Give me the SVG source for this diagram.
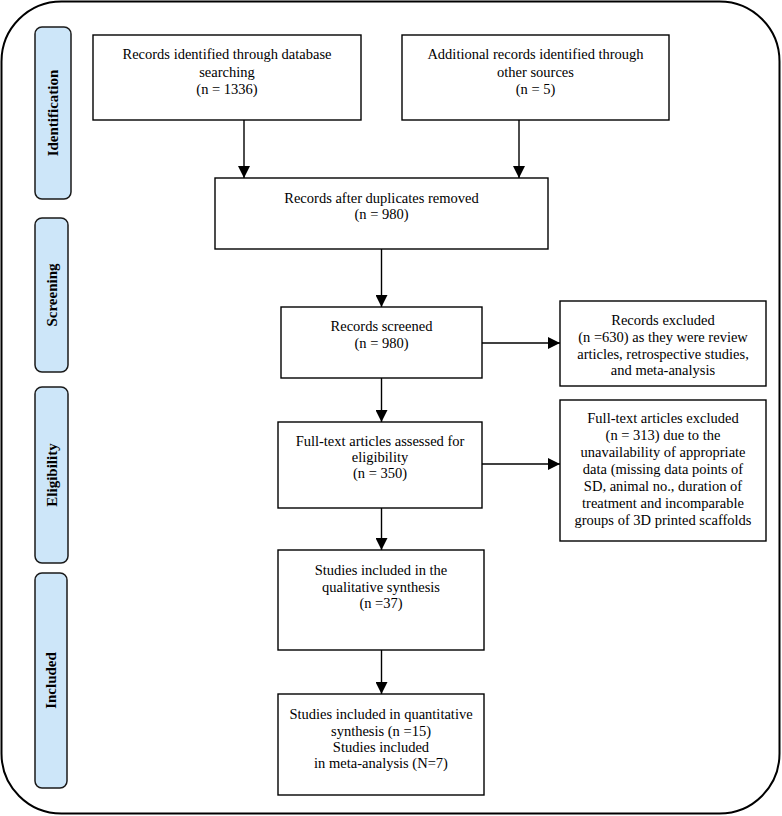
<svg xmlns="http://www.w3.org/2000/svg" width="782" height="816" viewBox="0 0 782 816">
<defs>
<marker id="ah" markerUnits="userSpaceOnUse" markerWidth="12" markerHeight="12" viewBox="0 0 12 12" refX="12" refY="6" orient="auto">
<path d="M0,0 L12,6 L0,12 z" fill="#000"/>
</marker>
<style>
.box{fill:#fff;stroke:#000;stroke-width:1.4}
.lab{fill:#cde6f9;stroke:#1a1a1a;stroke-width:1.5}
.t{font-family:"Liberation Serif","Times New Roman",serif;font-size:14.5px;fill:#000;text-anchor:middle}
.lt{font-family:"Liberation Serif","Times New Roman",serif;font-size:15px;font-weight:bold;fill:#000;text-anchor:middle}
.c{stroke:#000;stroke-width:1.4;fill:none;marker-end:url(#ah)}
</style>
</defs>
<rect width="782" height="816" fill="#fff"/>
<rect id="frame" x="1.5" y="1.5" width="778" height="812" rx="60" ry="60" fill="none" stroke="#000" stroke-width="2"/>

<g id="label-identification">
<rect class="lab" x="35" y="27" width="36" height="172" rx="7"/>
<text class="lt" transform="translate(58,113) rotate(-90)">Identification</text>
</g>
<g id="label-screening">
<rect class="lab" x="35" y="218" width="33" height="154" rx="7"/>
<text class="lt" transform="translate(56.5,295) rotate(-90)">Screening</text>
</g>
<g id="label-eligibility">
<rect class="lab" x="35" y="387" width="33" height="176" rx="7"/>
<text class="lt" transform="translate(56.5,475) rotate(-90)">Eligibility</text>
</g>
<g id="label-included">
<rect class="lab" x="35" y="573" width="32" height="215" rx="7"/>
<text class="lt" transform="translate(56,680.5) rotate(-90)">Included</text>
</g>

<g id="connectors">
<line class="c" x1="244" y1="120" x2="244" y2="178"/>
<line class="c" x1="519" y1="120" x2="519" y2="178"/>
<line class="c" x1="381.5" y1="249" x2="381.5" y2="307"/>
<line class="c" x1="482" y1="343" x2="560" y2="343"/>
<line class="c" x1="381.5" y1="378" x2="381.5" y2="422"/>
<line class="c" x1="482" y1="464" x2="560" y2="464"/>
<line class="c" x1="381.5" y1="508" x2="381.5" y2="550"/>
<line class="c" x1="381.5" y1="650" x2="381.5" y2="694"/>
</g>

<g id="box-db">
<rect class="box" x="93" y="35" width="268" height="85"/>
<text class="t" x="227" y="59">Records identified through database</text>
<text class="t" x="227" y="76.5">searching</text>
<text class="t" x="227" y="94">(n = 1336)</text>
</g>
<g id="box-other">
<rect class="box" x="402" y="35" width="267" height="85"/>
<text class="t" x="535.5" y="59">Additional records identified through</text>
<text class="t" x="535.5" y="76.5">other sources</text>
<text class="t" x="535.5" y="94">(n = 5)</text>
</g>
<g id="box-dup">
<rect class="box" x="215" y="178" width="333" height="71"/>
<text class="t" x="381.5" y="203">Records after duplicates removed</text>
<text class="t" x="381.5" y="219">(n = 980)</text>
</g>
<g id="box-screened">
<rect class="box" x="281" y="307" width="201" height="71"/>
<text class="t" x="381.5" y="331">Records screened</text>
<text class="t" x="381.5" y="348">(n = 980)</text>
</g>
<g id="box-excluded">
<rect class="box" x="560" y="301" width="206" height="85"/>
<text class="t" x="663" y="325">Records excluded</text>
<text class="t" x="663" y="342">(n =630) as they were review</text>
<text class="t" x="663" y="358.5">articles, retrospective studies,</text>
<text class="t" x="663" y="375">and meta-analysis</text>
</g>
<g id="box-fulltext">
<rect class="box" x="278" y="422" width="204" height="86"/>
<text class="t" x="380" y="446">Full-text articles assessed for</text>
<text class="t" x="380" y="462">eligibility</text>
<text class="t" x="380" y="478">(n = 350)</text>
</g>
<g id="box-ft-excluded">
<rect class="box" x="560" y="400" width="206" height="141"/>
<text class="t" x="663" y="423">Full-text articles excluded</text>
<text class="t" x="663" y="440">(n = 313) due to the</text>
<text class="t" x="663" y="457">unavailability of appropriate</text>
<text class="t" x="663" y="474">data (missing data points of</text>
<text class="t" x="663" y="491">SD, animal no., duration of</text>
<text class="t" x="663" y="508">treatment and incomparable</text>
<text class="t" x="663" y="525">groups of 3D printed scaffolds</text>
</g>
<g id="box-qualitative">
<rect class="box" x="278" y="550" width="206" height="100"/>
<text class="t" x="381" y="575">Studies included in the</text>
<text class="t" x="381" y="591.5">qualitative synthesis</text>
<text class="t" x="381" y="608">(n =37)</text>
</g>
<g id="box-quantitative">
<rect class="box" x="278" y="694" width="206" height="101"/>
<text class="t" x="381" y="719">Studies included in quantitative</text>
<text class="t" x="381" y="735.5">synthesis (n =15)</text>
<text class="t" x="381" y="752">Studies included</text>
<text class="t" x="381" y="768">in meta-analysis (N=7)</text>
</g>
</svg>
